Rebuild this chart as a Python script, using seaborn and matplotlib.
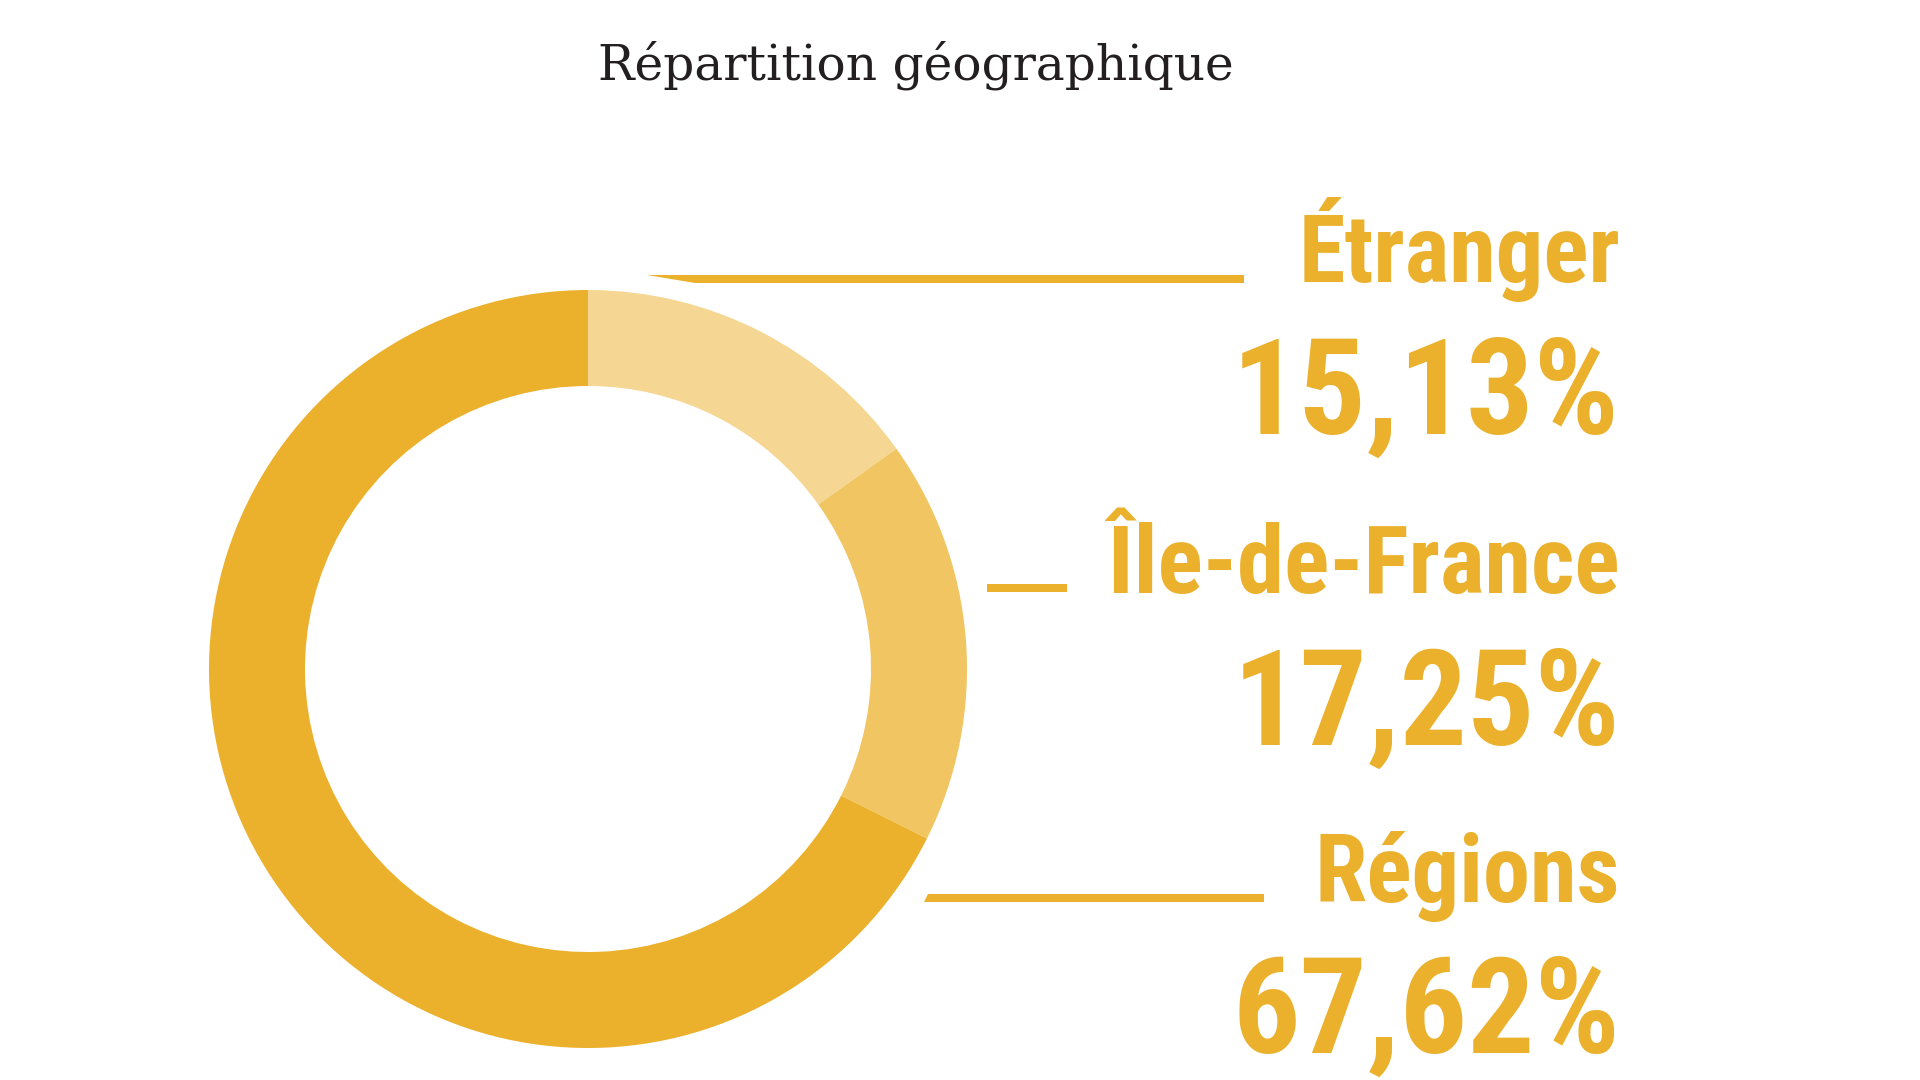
import matplotlib
matplotlib.use("Agg")
import matplotlib.pyplot as plt
import matplotlib.font_manager as fm
from matplotlib.patches import Polygon
import seaborn as sns

# ---- data ----
categories = ["Étranger", "Île-de-France", "Régions"]
shares = [15.13, 17.25, 67.62]
value_labels = ["15,13%", "17,25%", "67,62%"]
title = "Répartition géographique"
palette = ["#F5D793", "#F0C562", "#EBB12C"]

sns.set_theme(style="white")
plt.rcParams["font.family"] = ["DejaVu Sans"]

avail = {f.name for f in fm.fontManager.ttflist}
narrow = next((n for n in ["Roboto Condensed", "Liberation Sans Narrow",
                           "Open Sans Condensed", "Noto Sans"] if n in avail),
              "DejaVu Sans")
serif = next((n for n in ["Roboto Slab", "DejaVu Serif"] if n in avail), "serif")

gold = "#EBB12C"

fig = plt.figure(figsize=(19.2, 10.8), dpi=100)
fig.patch.set_facecolor("white")

# ---- donut ----
cx, cy, R, W = 588, 669, 379, 96
half = 400
ax = fig.add_axes([(cx - half) / 1920, (1080 - cy - half) / 1080,
                   2 * half / 1920, 2 * half / 1080])
ax.pie(shares, colors=palette, startangle=90, counterclock=False,
       radius=R, wedgeprops=dict(width=W, linewidth=0, antialiased=True))
ax.set_xlim(-half, half)
ax.set_ylim(-half, half)
ax.set_aspect("equal")
ax.axis("off")

# ---- overlay for text and leader lines (pixel coords) ----
ov = fig.add_axes([0, 0, 1, 1])
ov.set_xlim(0, 1920)
ov.set_ylim(1080, 0)
ov.axis("off")
ov.patch.set_alpha(0)

ov.text(916, 80, title, ha="center", va="baseline", fontsize=35,
        family=serif, color="#231F20")

label_base = [282, 593, 902]
value_base = [434, 745, 1053]
xr = 1620
for cat, val, yb, yv in zip(categories, value_labels, label_base, value_base):
    ov.text(xr, yb, cat, ha="right", va="baseline", fontsize=68,
            family=narrow, fontweight="bold", fontstretch="condensed",
            color=gold)
    ov.text(xr, yv, val, ha="right", va="baseline", fontsize=96,
            family=narrow, fontweight="bold", fontstretch="condensed",
            color=gold)

# leader lines
lines = [
    [(647, 275), (1244, 275), (1244, 283), (695, 283)],
    [(987, 584), (1067, 584), (1067, 592), (987, 592)],
    [(928, 894), (1264, 894), (1264, 902), (924, 902)],
]
for pts in lines:
    ov.add_patch(Polygon(pts, closed=True, facecolor=gold, edgecolor="none"))

fig.savefig("out.png", dpi=100, facecolor="white")
